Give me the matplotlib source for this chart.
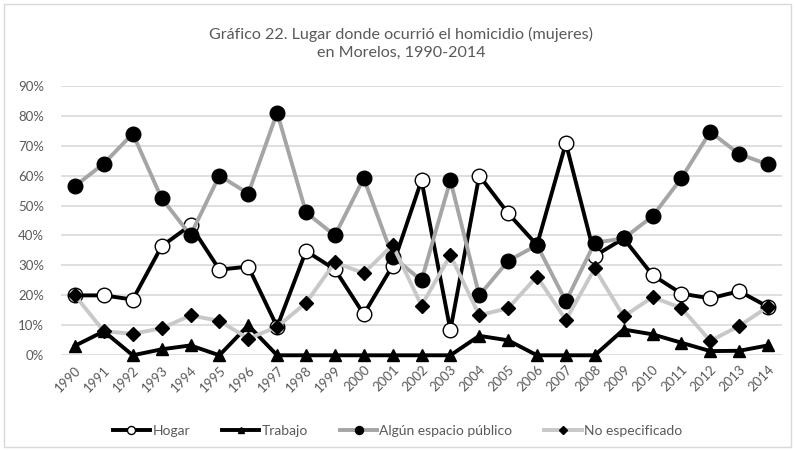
import matplotlib
matplotlib.use("Agg")
import matplotlib.pyplot as plt
import numpy as np
from matplotlib.lines import Line2D
from matplotlib.patches import Rectangle

# ======================================================
# DATA (in %)
# ======================================================

YEARS = [str(y) for y in range(1990, 2015)]

HOGAR = [20, 20, 18.6, 36.4, 43.4, 28.6, 29.6, 9.5, 34.8, 28.7,
         13.7, 29.9, 58.4, 8.4, 60.0, 47.4, 36.8, 70.8, 33.2, 39.0,
         26.8, 20.6, 19.0, 21.4, 16.2]

TRABAJO = [3.2, 8.0, 0, 2.0, 3.3, 0, 10.0, 0, 0, 0,
           0, 0, 0, 0, 6.5, 5.0, 0, 0, 0, 8.6,
           7.0, 4.2, 1.4, 1.5, 3.3]

PUBLICO = [56.5, 64.0, 74.0, 52.4, 40.1, 60.0, 54.0, 81.0, 47.7, 40.0,
           59.1, 32.9, 25.0, 58.4, 20.0, 31.5, 36.8, 18.0, 37.6, 39.0,
           46.4, 59.1, 74.6, 67.2, 63.7]

NO_ESPEC = [20, 8.0, 7.2, 9.0, 13.3, 11.5, 5.6, 9.5, 17.5, 31.0,
            27.4, 36.8, 16.6, 33.4, 13.4, 15.7, 26.3, 11.8, 29.0, 13.0,
            19.4, 15.8, 4.8, 9.8, 16.2]

LABELS = ["Hogar", "Trabajo", "Algún espacio público", "No especificado"]

TEXT_COLOR = "#595959"
GRID_COLOR = "#d9d9d9"

# series styles: line colour, marker, marker size, marker face
STYLES = [
    ("black", "o", 10.5, "white"),
    ("black", "^", 8.5, "black"),
    ("#a5a5a5", "o", 10.5, "black"),
    ("#c8c8c8", "D", 7.5, "black"),
]

plt.rcParams["font.family"] = ["Lato", "DejaVu Sans"]

# ======================================================
# PLOT
# ======================================================

fig = plt.figure(figsize=(7.95, 4.51), dpi=100)
ax = fig.add_axes([0.0762, 0.2122, 0.908, 0.5978])

x = np.arange(len(YEARS))

handles = []
for i, (values, (color, marker, ms, face)) in enumerate(
        zip([HOGAR, TRABAJO, PUBLICO, NO_ESPEC], STYLES)):
    ax.plot(x, np.array(values) / 100, color=color, lw=2.8, marker=marker,
            ms=ms, mfc=face, mec="black", mew=1.0, zorder=3 + i, clip_on=False)
    handles.append(Line2D([], [], color=color, lw=2.8, marker=marker,
                          ms=ms * 0.55, mfc=face, mec="black", mew=1.0))

ax.set_xlim(-0.5, len(YEARS) - 0.5)
ax.set_ylim(0, 0.9)
ax.set_yticks(np.arange(0, 0.91, 0.1))
ax.set_yticklabels([f"{int(round(v * 100))}%" for v in np.arange(0, 0.91, 0.1)])
ax.set_xticks(x)
ax.set_xticklabels(YEARS, rotation=45, ha="right", rotation_mode="anchor")

ax.grid(axis="y", color=GRID_COLOR, lw=1.2)
ax.set_axisbelow(True)
for side in ["top", "right", "left", "bottom"]:
    ax.spines[side].set_visible(False)
ax.tick_params(axis="both", length=0, colors=TEXT_COLOR, labelsize=9.5)
ax.tick_params(axis="y", pad=12)
ax.tick_params(axis="x", pad=6)

fig.text(0.505, 0.903, "Gráfico 22. Lugar donde ocurrió el homicidio (mujeres)\nen Morelos, 1990-2014",
         ha="center", va="center", fontsize=11.6, color=TEXT_COLOR, linespacing=1.33)

fig.legend(handles, LABELS, loc="center", bbox_to_anchor=(0.5, 0.045), ncol=4,
           frameon=False, fontsize=10, labelcolor=TEXT_COLOR, handlelength=2.7,
           handletextpad=0.15, columnspacing=2.3)

fig.patches.append(Rectangle((0.005, 0.008), 0.99, 0.984, transform=fig.transFigure,
                             fill=False, edgecolor=GRID_COLOR, lw=1.0))

fig.savefig("out.png", dpi=100)
